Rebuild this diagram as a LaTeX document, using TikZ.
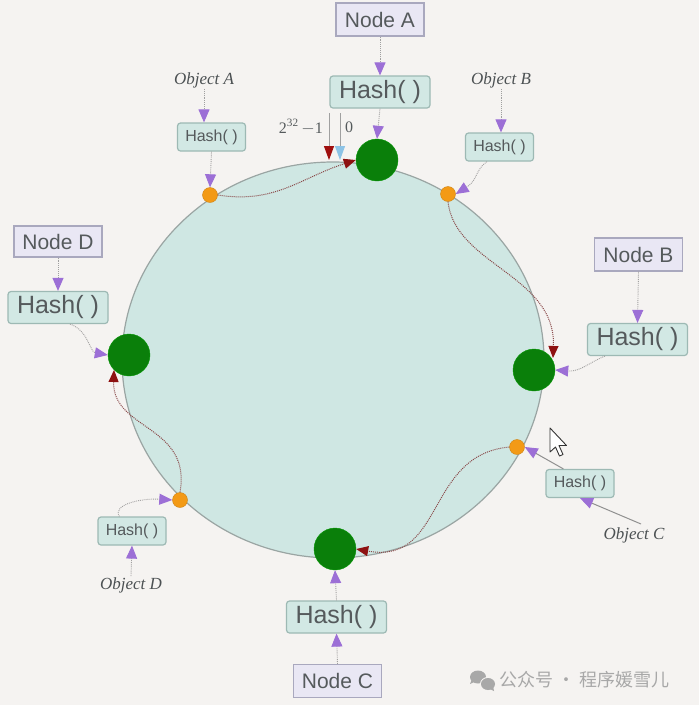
\documentclass[tikz,border=0pt]{standalone}
\usepackage{fontspec}
\setmainfont{Liberation Serif}
\setsansfont{Liberation Sans}
\newfontfamily\cjk{Noto Sans CJK SC}
\usetikzlibrary{arrows.meta,shapes.geometric}
\definecolor{bg}{HTML}{F5F3F1}
\definecolor{ringfill}{HTML}{CFE7E3}
\definecolor{ringdraw}{HTML}{9AA5A3}
\definecolor{boxfill}{HTML}{E9E7F4}
\definecolor{boxdraw}{HTML}{A9A8BE}
\definecolor{hashfill}{HTML}{D2E8E4}
\definecolor{hashdraw}{HTML}{9DB9B4}
\definecolor{txt}{HTML}{555A5C}
\definecolor{purp}{HTML}{9C6FD6}
\definecolor{lnk}{HTML}{A0A0A0}
\definecolor{dred}{HTML}{8E1111}
\definecolor{dline}{HTML}{8A4A4A}
\definecolor{gnode}{HTML}{0A7F0A}
\definecolor{odot}{HTML}{F39A16}
\definecolor{lblue}{HTML}{8CC3E6}
\definecolor{wm}{HTML}{A8A8A8}
\begin{document}
\begin{tikzpicture}[x=1pt,y=-1pt,
  nodebox/.style={draw=boxdraw, fill=boxfill, line width=1.2pt, font=\sffamily\fontsize{21}{21}\selectfont, text=txt, minimum width=88, minimum height=33, inner sep=0},
  bighash/.style={draw=hashdraw, fill=hashfill, line width=1.2pt, rounded corners=3, font=\sffamily\fontsize{25}{25}\selectfont, text=txt, minimum width=100, minimum height=32, inner sep=0},
  smallhash/.style={draw=hashdraw, fill=hashfill, line width=1.2pt, rounded corners=3, font=\sffamily\fontsize{16}{16}\selectfont, text=txt, minimum width=68, minimum height=28, inner sep=0},
  objlabel/.style={font=\itshape\fontsize{17}{17}\selectfont, text=txt!90!black, inner sep=1},
  gnodes/.style={circle, fill=gnode, draw=gnode!80!green, minimum size=42, inner sep=0},
  odots/.style={circle, fill=odot, draw=odot!85!black, minimum size=15, inner sep=0},
  parrow/.style={densely dotted, draw=lnk, line width=0.9pt, -{Triangle[length=13pt,width=11pt,color=purp]}},
  sarrow/.style={draw=lnk!90!black, line width=1pt, -{Triangle[length=13pt,width=11pt,color=purp]}},
  rarrow/.style={densely dotted, draw=dline, line width=1pt, -{Triangle[length=12pt,width=10pt,color=dred]}}
]
\useasboundingbox (0,0) rectangle (699,705);
\fill[bg] (0,0) rectangle (699,705);

% ring
\draw[fill=ringfill, draw=ringdraw, line width=1.2pt] (333,360) ellipse [x radius=211, y radius=198];

% servers on the ring
\node[gnodes] (gA) at (377,160) {};
\node[gnodes] (gB) at (534,370) {};
\node[gnodes] (gC) at (335,549) {};
\node[gnodes] (gD) at (129,355) {};

% objects on the ring
\node[odots] (oA) at (210,195) {};
\node[odots] (oB) at (448,194) {};
\node[odots] (oC) at (517,447) {};
\node[odots] (oD) at (180,500) {};

% node boxes and hashes
\node[nodebox] (nA) at (380,19.5) {Node A};
\node[bighash] (hA) at (380,92) {Hash( )};
\node[nodebox] (nB) at (638.5,254.5) {Node B};
\node[bighash] (hB) at (637.5,339.5) {Hash( )};
\node[nodebox] (nC) at (337.5,681) {Node C};
\node[bighash] (hC) at (336.5,617) {Hash( )};
\node[nodebox, minimum height=31] (nD) at (58,241.5) {Node D};
\node[bighash] (hD) at (58,307.5) {Hash( )};

% object labels and small hashes
\node[objlabel] (lA) at (204,80) {Object A};
\node[smallhash] (sA) at (211.5,137) {Hash( )};
\node[objlabel] (lB) at (501,80) {Object B};
\node[smallhash] (sB) at (499.5,147) {Hash( )};
\node[objlabel] (lC) at (634,535) {Object C};
\node[smallhash] (sC) at (580,483.5) {Hash( )};
\node[objlabel] (lD) at (131,585) {Object D};
\node[smallhash] (sD) at (132,531) {Hash( )};

% helper coordinates
\path (sB.south west) ++(22,0) coordinate (sBs);
\path (hB.south west) ++(18,0) coordinate (hBs);
\path (sC.north west) ++(18,0) coordinate (sCn);
\path (sD.north west) ++(22,0) coordinate (sDn);
\path (hD.south) ++(12,0) coordinate (hDs);
\coordinate (lCn) at (641,524);

% purple connectors
\draw[parrow] (nA.south) -- (hA.north);
\draw[parrow] (hA.south) -- (gA.north);
\draw[parrow] (lA.south) -- (sA.north -| lA.south);
\draw[parrow] (sA.south) -- (oA.north);
\draw[parrow] (lB.south) -- (sB.north -| lB.south);
\draw[parrow] (sBs) .. controls (475,170) and (478,180) .. (oB.east);
\draw[parrow] (nB.south) -- (hB.north);
\draw[parrow] (hBs) .. controls (590,362) and (580,372) .. (gB.east);
\draw[sarrow] (sCn) -- (oC.east);
\draw[sarrow] (lCn) -- (sC.south);
\draw[parrow] (nC.north) -- (hC.south);
\draw[parrow] (hC.north) -- (gC.south);
\draw[parrow] (lD.north) -- (sD.south);
\draw[parrow] (sDn) .. controls (112,505) and (140,498) .. (oD.west);
\draw[parrow] (nD.south) -- (hD.north);
\draw[parrow] (hDs) .. controls (88,330) and (90,352) .. (gD.west);

% red dotted movements along the ring
\draw[rarrow] (oA.east) .. controls (275,204) and (300,178) .. (gA.west);
\draw[rarrow] (oB.south) .. controls (455,265) and (556,275) .. (553,358);
\draw[rarrow] (oC.west) .. controls (425,455) and (445,565) .. (gC.east);
\draw[rarrow] (oD.north) .. controls (192,425) and (112,430) .. (gD.south west);

% 2^32-1 and 0 markers
\coordinate (m1t) at (329,113);
\coordinate (m1b) at (329,160);
\coordinate (m0t) at (340,113);
\coordinate (m0b) at (340,160);
\draw[draw=lnk, line width=0.9pt, -{Triangle[length=14pt,width=10pt,color=dred!85!red]}] (m1t) -- (m1b);
\draw[draw=lnk, line width=0.9pt, -{Triangle[length=14pt,width=10pt,color=lblue]}] (m0t) -- (m0b);
\node[font=\fontsize{16}{16}\selectfont, text=txt, anchor=east, inner sep=0] (t1) at (323,127) {2\textsuperscript{32}\,$-$1};
\node[font=\fontsize{16}{16}\selectfont, text=txt, anchor=west, inner sep=0] (t0) at (345,127) {0};

% mouse cursor
\draw[fill=white, draw=black!80, line width=0.9pt, line join=round]
  (550,428) -- (550,452) -- (555.5,447) -- (559.5,456) -- (563,454.5) -- (559,445.5) -- (566.5,445.5) -- cycle;

% watermark
\fill[wm] (478,677) ellipse [x radius=8, y radius=6.5];
\fill[wm] (470,684) -- (472,679) -- (474,682) -- cycle;
\fill[bg] (488,684) ellipse [x radius=8, y radius=7];
\fill[wm] (488,684) ellipse [x radius=7, y radius=6];
\fill[wm] (494,691) -- (493,686) -- (490,689) -- cycle;
\node[font=\cjk\fontsize{18}{18}\selectfont, text=wm, anchor=west, inner sep=0] (wmt) at (499,680) {公众号 · 程序媛雪儿};
\end{tikzpicture}
\end{document}
